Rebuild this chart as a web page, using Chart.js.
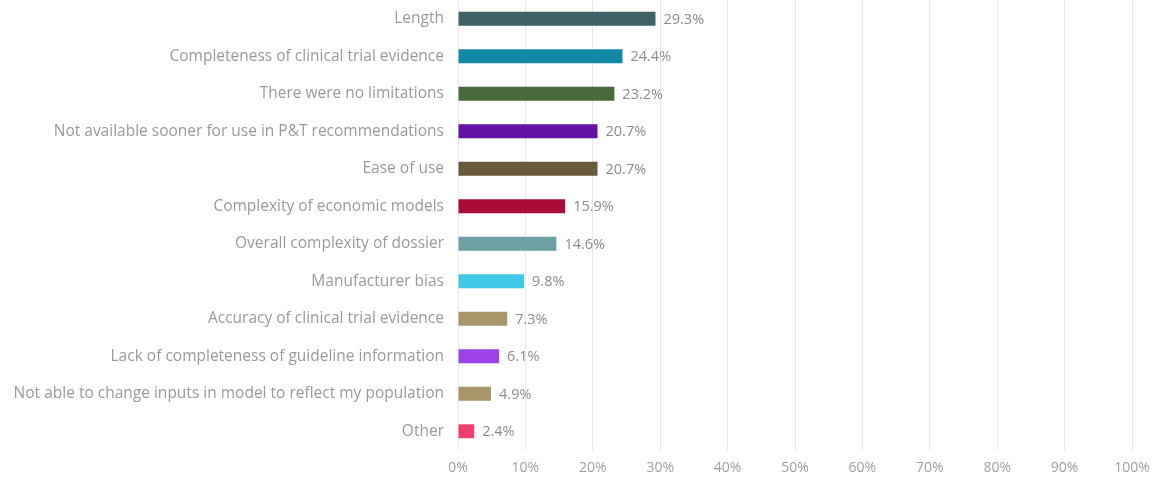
<!DOCTYPE html>
<html>
<head>
<meta charset="utf-8">
<script src="https://cdn.jsdelivr.net/npm/chart.js@4"></script>
<style>
  html, body { margin: 0; padding: 0; background: #fff; }
  #wrap { width: 1154px; height: 481px; position: relative; }
</style>
</head>
<body>
<div id="wrap"><canvas id="myChart"></canvas></div>
<script>
const categories = [
  "Length",
  "Completeness of clinical trial evidence",
  "There were no limitations",
  "Not available sooner for use in P&T recommendations",
  "Ease of use",
  "Complexity of economic models",
  "Overall complexity of dossier",
  "Manufacturer bias",
  "Accuracy of clinical trial evidence",
  "Lack of completeness of guideline information",
  "Not able to change inputs in model to reflect my population",
  "Other"
];
const values = [29.3, 24.4, 23.2, 20.7, 20.7, 15.9, 14.6, 9.8, 7.3, 6.1, 4.9, 2.4];
const barColors = [
  "#3f6266", "#128aa5", "#476a3b", "#6511a6", "#6a5a3c", "#a80c37",
  "#6ba0a5", "#40c8e8", "#a89669", "#9b43e8", "#a89669", "#ef3f6f"
];

const fontFamily = "'Open Sans', sans-serif";

// writes the percentage just past the end of each bar
const valueLabels = {
  id: "valueLabels",
  afterDatasetsDraw(chart) {
    const ctx = chart.ctx;
    const meta = chart.getDatasetMeta(0);
    ctx.save();
    ctx.font = "14.5px " + fontFamily;
    ctx.fillStyle = "#8c8c8c";
    ctx.textAlign = "left";
    ctx.textBaseline = "middle";
    meta.data.forEach((bar, i) => {
      ctx.fillText(values[i].toFixed(1) + "%", bar.x + 8, bar.y + 1);
    });
    ctx.restore();
  }
};

const ctx = document.getElementById("myChart");
new Chart(ctx, {
  type: "bar",
  data: {
    labels: categories,
    datasets: [{
      data: values,
      backgroundColor: barColors,
      barPercentage: 0.37,
      categoryPercentage: 1
    }]
  },
  options: {
    indexAxis: "y",
    responsive: true,
    maintainAspectRatio: false,
    animation: false,
    layout: { padding: { top: 0, right: 0, bottom: 0, left: 0 } },
    plugins: {
      legend: { display: false },
      tooltip: { enabled: false }
    },
    scales: {
      x: {
        min: 0,
        max: 100,
        ticks: {
          stepSize: 10,
          padding: 10,
          color: "#a0a0a0",
          font: { family: fontFamily, size: 14 },
          callback: (v) => v + "%"
        },
        grid: { color: "#e6e6e6", drawTicks: false },
        border: { display: false },
        afterFit(scale) {
          scale.height = 31;
          scale.paddingRight = 22;
        }
      },
      y: {
        ticks: {
          padding: 14,
          color: "#9a9a9a",
          font: { family: fontFamily, size: 15.5 }
        },
        grid: { display: false, drawTicks: false },
        border: { display: false },
        afterFit(scale) {
          scale.width = 458;
          scale.paddingTop = 0;
          scale.paddingBottom = 0;
        }
      }
    }
  },
  plugins: [valueLabels]
});
</script>
</body>
</html>
